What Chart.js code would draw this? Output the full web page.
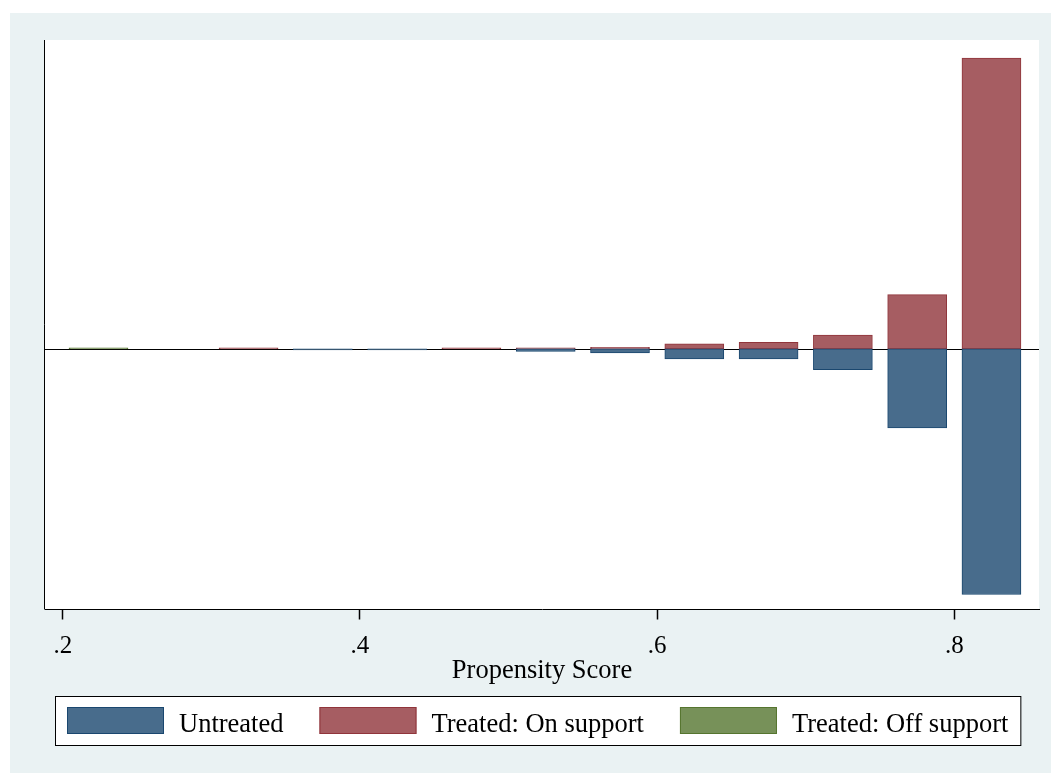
<!DOCTYPE html>
<html>
<head>
<meta charset="utf-8">
<script src="https://cdn.jsdelivr.net/npm/chart.js@4.4.1/dist/chart.umd.min.js"></script>
<style>
  body { margin: 0; background: #fff; }
  canvas { display: block; }
</style>
</head>
<body>
<canvas id="chart" width="1051" height="773"></canvas>
<script>
// bin centres of the propensity score histogram
const centros = [0.325, 0.375, 0.425, 0.475, 0.525, 0.575, 0.625, 0.675, 0.725, 0.775, 0.825]
// frequencies (arbitrary units)
const noTratados = [0, 1, 1, 0, 2.5, 4, 10, 10, 20.7, 79, 245]
const tratadosSoporte = [1, 0, 0, 1, 1, 1.5, 5, 6.5, 13.7, 54, 290]
const centrosFuera = [0.224]
const tratadosFuera = [1]
const ticksX = [0.2, 0.4, 0.6, 0.8]
const etiquetas = ["Untreated", "Treated: On support", "Treated: Off support"]
const tituloX = "Propensity Score"

const fuente = "'Liberation Serif', 'Times New Roman', serif"

const fondo = {
    id: 'fondo',
    beforeDraw(chart) {
        const { ctx, chartArea } = chart
        ctx.save()
        ctx.fillStyle = '#ffffff'
        ctx.fillRect(0, 0, chart.width, chart.height)
        ctx.fillStyle = '#eaf2f3'
        ctx.fillRect(10, 13, chart.width - 10, chart.height - 13)
        ctx.fillStyle = '#ffffff'
        ctx.fillRect(chartArea.left, chartArea.top, chartArea.right - chartArea.left, chartArea.bottom - chartArea.top)
        ctx.restore()
    },
    beforeDatasetsDraw(chart) {
        const { ctx, chartArea, scales } = chart
        const y0 = Math.round(scales.y.getPixelForValue(0)) + 0.5
        ctx.save()
        ctx.strokeStyle = '#000'
        ctx.lineWidth = 1
        ctx.beginPath()
        ctx.moveTo(chartArea.left, y0)
        ctx.lineTo(chartArea.right, y0)
        ctx.stroke()
        // left axis line
        ctx.beginPath()
        ctx.moveTo(chartArea.left - 0.5, chartArea.top)
        ctx.lineTo(chartArea.left - 0.5, chartArea.bottom)
        ctx.stroke()
        ctx.restore()
    },
    afterDraw(chart) {
        const { ctx, chartArea } = chart
        const ds = chart.data.datasets
        ctx.save()
        // axis title
        ctx.font = '26.5px ' + fuente
        ctx.fillStyle = '#000'
        ctx.textAlign = 'center'
        ctx.textBaseline = 'alphabetic'
        ctx.fillText(tituloX, (chartArea.left + chartArea.right) / 2, chartArea.bottom + 68)
        ctx.textAlign = 'left'

        // legend box drawn by hand, Stata style
        const anchoCaja = 97, altoCaja = 27, hueco = 15, separacion = 36, margen = 12
        let total = 0
        ds.forEach((d, i) => {
            total += anchoCaja + hueco + ctx.measureText(d.label).width
            if (i < ds.length - 1) total += separacion
        })
        const ancho = total + 2 * margen
        const izq = Math.round(538 - ancho / 2)
        const arriba = 696, alto = 49
        ctx.fillStyle = '#fff'
        ctx.fillRect(izq, arriba, ancho, alto)
        ctx.strokeStyle = '#000'
        ctx.lineWidth = 1
        ctx.strokeRect(izq + 0.5, arriba + 0.5, ancho, alto)
        let x = izq + margen
        ds.forEach((d) => {
            ctx.fillStyle = d.backgroundColor
            ctx.fillRect(x, arriba + 11, anchoCaja, altoCaja)
            ctx.strokeStyle = d.borderColor
            ctx.strokeRect(x + 0.5, arriba + 11.5, anchoCaja - 1, altoCaja - 1)
            x += anchoCaja + hueco
            ctx.fillStyle = '#000'
            ctx.fillText(d.label, x, arriba + 36)
            x += ctx.measureText(d.label).width + separacion
        })
        ctx.restore()
    }
}

const grafico = document.getElementById('chart').getContext('2d')
new Chart(grafico, {
    type: 'bar',
    data: {
        datasets: [{
            label: etiquetas[0],
            data: centros.map((c, i) => ({ x: c, y: -noTratados[i] })),
            backgroundColor: 'rgb(72, 108, 140)',
            borderColor: 'rgb(26, 71, 111)',
        }, {
            label: etiquetas[1],
            data: centros.map((c, i) => ({ x: c, y: tratadosSoporte[i] })),
            backgroundColor: 'rgb(166, 93, 98)',
            borderColor: 'rgb(144, 53, 59)',
        }, {
            label: etiquetas[2],
            data: centrosFuera.map((c, i) => ({ x: c, y: tratadosFuera[i] })),
            backgroundColor: 'rgb(119, 145, 89)',
            borderColor: 'rgb(85, 117, 47)',
        }],
    },
    options: {
        responsive: false,
        animation: false,
        devicePixelRatio: 1,
        grouped: false,
        barThickness: 59,
        borderWidth: 1,
        borderSkipped: false,
        layout: { padding: { left: 45, top: 40, right: 12, bottom: 100 } },
        plugins: { legend: { display: false }, tooltip: { enabled: false } },
        scales: {
            x: {
                type: 'linear',
                offset: false,
                min: 0.188,
                max: 0.857,
                afterBuildTicks: (s) => { s.ticks = ticksX.map(v => ({ value: v })) },
                ticks: {
                    color: '#000',
                    font: { family: fuente, size: 25, lineHeight: 0.7 },
                    padding: 18,
                    maxRotation: 0,
                    callback: (v) => v.toFixed(1).replace(/^0/, ''),
                },
                grid: {
                    offset: false,
                    drawOnChartArea: false,
                    drawTicks: true,
                    tickLength: 10,
                    tickWidth: 1.5,
                    tickColor: '#000',
                    color: '#000',
                },
                border: { display: true, color: '#000', width: 1 },
            },
            y: {
                display: false,
                min: -260,
                max: 308,
            },
        },
    },
    plugins: [fondo],
})
</script>
</body>
</html>
